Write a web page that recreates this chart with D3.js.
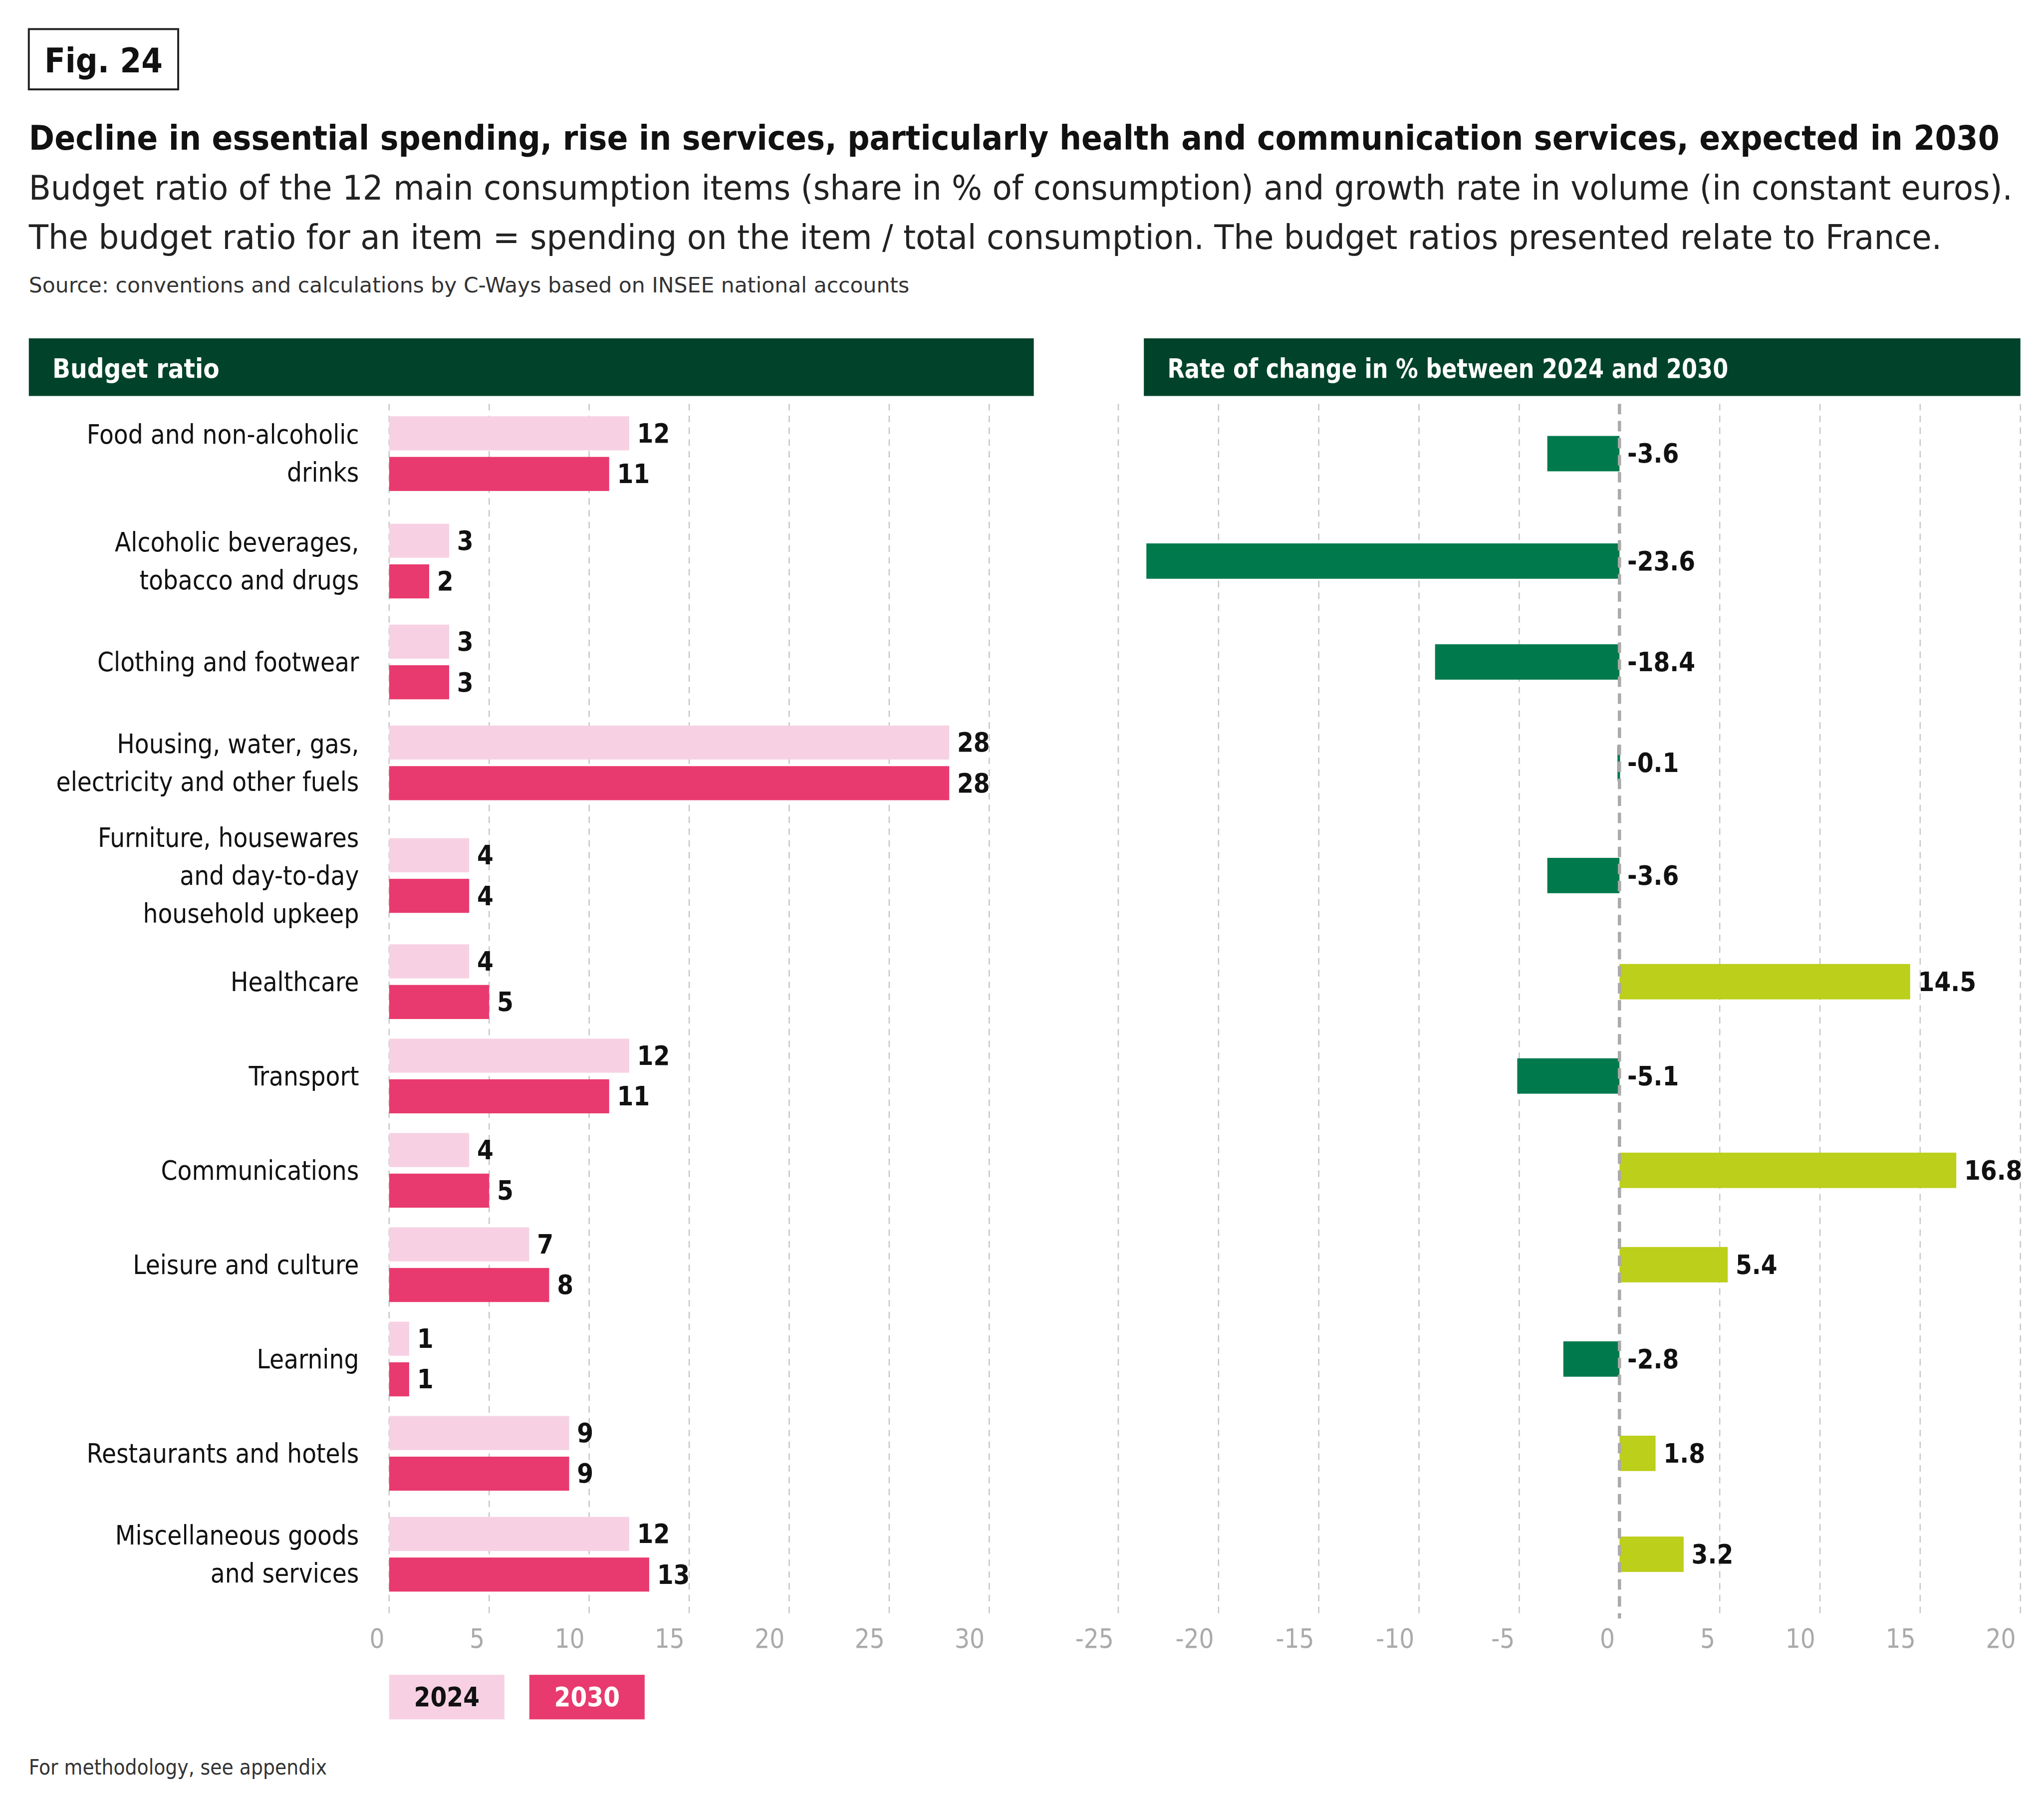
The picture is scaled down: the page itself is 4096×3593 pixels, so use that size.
<!DOCTYPE html>
<html><head><meta charset="utf-8">
<script src="https://cdn.jsdelivr.net/npm/d3@7"></script>
<style>body{margin:0;background:#fff}</style>
</head><body>
<svg id="chart" width="4096" height="3593" viewBox="0 0 1560 1368"></svg>
<script>
const categories = [
  ["Food and non-alcoholic", "drinks"],
  ["Alcoholic beverages,", "tobacco and drugs"],
  ["Clothing and footwear"],
  ["Housing, water, gas,", "electricity and other fuels"],
  ["Furniture, housewares", "and day-to-day", "household upkeep"],
  ["Healthcare"],
  ["Transport"],
  ["Communications"],
  ["Leisure and culture"],
  ["Learning"],
  ["Restaurants and hotels"],
  ["Miscellaneous goods", "and services"]
];
const ratio2024 = [12, 3, 3, 28, 4, 4, 12, 4, 7, 1, 9, 12];
const ratio2030 = [11, 2, 3, 28, 4, 5, 11, 5, 8, 1, 9, 13];
const change = [-3.6, -23.6, -18.4, -0.1, -3.6, 14.5, -5.1, 16.8, 5.4, -2.8, 1.8, 3.2];
// bar lengths on the right panel as drawn in the source figure
const changeDrawn = [-3.6, -23.6, -9.2, -0.1, -3.6, 14.5, -5.1, 16.8, 5.4, -2.8, 1.8, 3.2];
const leftTicks = [0, 5, 10, 15, 20, 25, 30];
const rightTicks = [-25, -20, -15, -10, -5, 0, 5, 10, 15, 20];

const FONT = "'DejaVu Sans Condensed','Liberation Sans Narrow','Noto Sans',sans-serif";
const svg = d3.select("#chart").style("font-family", FONT);
const dark = "#00432a", pinkL = "#f7d1e3", pink = "#e83a6e", green = "#007a4d", lime = "#bccf1a";
const fmt = v => String(v).replace("\u2212", "-");

// header block
svg.append("rect").attr("x", 22).attr("y", 22).attr("width", 114).attr("height", 46)
  .attr("fill", "none").attr("stroke", "#222").attr("stroke-width", 1.5);
svg.append("text").attr("x", 79).attr("y", 55).attr("text-anchor", "middle")
  .attr("font-weight", "bold").attr("font-size", 26).attr("fill", "#111").text("Fig. 24");
svg.append("text").attr("x", 22).attr("y", 114).attr("font-weight", "bold").attr("font-size", 26)
  .attr("fill", "#111").attr("textLength", 1504).attr("lengthAdjust", "spacingAndGlyphs")
  .text("Decline in essential spending, rise in services, particularly health and communication services, expected in 2030");
svg.append("text").attr("x", 22).attr("y", 152).attr("font-size", 26).attr("fill", "#222")
  .attr("textLength", 1514).attr("lengthAdjust", "spacingAndGlyphs")
  .text("Budget ratio of the 12 main consumption items (share in % of consumption) and growth rate in volume (in constant euros).");
svg.append("text").attr("x", 22).attr("y", 190).attr("font-size", 26).attr("fill", "#222")
  .attr("textLength", 1460).attr("lengthAdjust", "spacingAndGlyphs")
  .text("The budget ratio for an item = spending on the item / total consumption. The budget ratios presented relate to France.");
svg.append("text").attr("x", 22).attr("y", 223).attr("font-size", 16).attr("fill", "#333")
  .attr("textLength", 672).attr("lengthAdjust", "spacingAndGlyphs")
  .text("Source: conventions and calculations by C-Ways based on INSEE national accounts");

// panel headers
svg.append("rect").attr("x", 22).attr("y", 258).attr("width", 767).attr("height", 44).attr("fill", dark);
svg.append("text").attr("x", 40).attr("y", 288).attr("fill", "#fff").attr("font-weight", "bold").attr("font-size", 20).text("Budget ratio");
svg.append("rect").attr("x", 873).attr("y", 258).attr("width", 669).attr("height", 44).attr("fill", dark);
svg.append("text").attr("x", 891).attr("y", 288).attr("fill", "#fff").attr("font-weight", "bold").attr("font-size", 20)
  .attr("textLength", 428).attr("lengthAdjust", "spacingAndGlyphs").text("Rate of change in % between 2024 and 2030");

const idx = d3.range(categories.length);
// row heights follow the number of label lines
const rowH = categories.map(c => c.length === 1 ? 72 : c.length === 2 ? 82 : 90);
const centers = [];
let acc = 346 - rowH[0] / 2;
rowH.forEach(h => { centers.push(acc + h / 2); acc += h; });
const xL = d3.scaleLinear().domain([0, 30]).range([297, 755]);
const xR = d3.scaleLinear().domain([-25, 20]).range([853.5, 1542]);
const gridTop = 308, gridBot = 1235;

// grid lines
svg.append("g").selectAll("line").data(leftTicks).join("line")
  .attr("x1", d => xL(d)).attr("x2", d => xL(d)).attr("y1", gridTop).attr("y2", gridBot)
  .attr("stroke", "#c8c8c8").attr("stroke-dasharray", "5,4");
svg.append("g").selectAll("line").data(rightTicks.filter(d => d !== 0)).join("line")
  .attr("x1", d => xR(d)).attr("x2", d => xR(d)).attr("y1", gridTop).attr("y2", gridBot)
  .attr("stroke", "#c8c8c8").attr("stroke-dasharray", "5,4");

// axis tick labels
const axL = svg.append("g").attr("transform", `translate(0,${gridBot})`)
  .call(d3.axisBottom(xL).tickValues(leftTicks).tickSize(0).tickPadding(8).tickFormat(fmt));
const axR = svg.append("g").attr("transform", `translate(0,${gridBot})`)
  .call(d3.axisBottom(xR).tickValues(rightTicks).tickSize(0).tickPadding(8).tickFormat(fmt));
[axL, axR].forEach(a => {
  a.select(".domain").remove();
  a.selectAll("text").attr("font-size", 20).attr("fill", "#aaa").attr("font-family", FONT)
    .attr("text-anchor", "end").attr("dx", -4);
});

// category labels
const bw = 26, gap = 5;
idx.forEach(i => {
  const lines = categories[i];
  const cy = centers[i];
  const t = svg.append("text").attr("text-anchor", "end").attr("font-size", 20).attr("fill", "#111");
  lines.forEach((l, k) => {
    t.append("tspan").attr("x", 274).attr("y", cy + 7 + (k - (lines.length - 1) / 2) * 29).text(l);
  });
});

// left bars
const gL = svg.append("g");
[[ratio2024, pinkL, -bw - gap / 2], [ratio2030, pink, gap / 2]].forEach(([vals, col, off]) => {
  gL.append("g").selectAll("rect").data(idx).join("rect")
    .attr("x", xL(0)).attr("y", i => centers[i] + off)
    .attr("width", i => xL(vals[i]) - xL(0)).attr("height", bw).attr("fill", col);
  gL.append("g").selectAll("text").data(idx).join("text")
    .attr("x", i => xL(vals[i]) + 6).attr("y", i => centers[i] + off + bw / 2 + 7)
    .attr("font-size", 20).attr("font-weight", "bold").attr("fill", "#111").text(i => vals[i]);
});

// right bars
const gR = svg.append("g");
gR.selectAll("rect").data(idx).join("rect")
  .attr("x", i => Math.min(xR(0), xR(changeDrawn[i])))
  .attr("y", i => centers[i] - 13.5)
  .attr("width", i => Math.max(2, Math.abs(xR(changeDrawn[i]) - xR(0))))
  .attr("height", 27).attr("fill", i => change[i] < 0 ? green : lime);
gR.selectAll("text").data(idx).join("text")
  .attr("x", i => (change[i] < 0 ? xR(0) : xR(changeDrawn[i])) + 6)
  .attr("y", i => centers[i] + 7)
  .attr("font-size", 20).attr("font-weight", "bold").attr("fill", "#111")
  .text(i => change[i].toFixed(1));
svg.append("line").attr("x1", xR(0)).attr("x2", xR(0)).attr("y1", gridTop).attr("y2", gridBot)
  .attr("stroke", "#aaa").attr("stroke-width", 2.5).attr("stroke-dasharray", "8,5");

// legend
const legend = [["2024", pinkL, "#111"], ["2030", pink, "#fff"]];
legend.forEach(([lab, col, tc], k) => {
  const lx = 297 + k * 107;
  svg.append("rect").attr("x", lx).attr("y", 1278).attr("width", 88).attr("height", 34).attr("fill", col);
  svg.append("text").attr("x", lx + 44).attr("y", 1302).attr("text-anchor", "middle")
    .attr("font-size", 20).attr("font-weight", "bold").attr("fill", tc).text(lab);
});
svg.append("text").attr("x", 22).attr("y", 1354).attr("font-size", 16).attr("fill", "#333").text("For methodology, see appendix");
</script>
</body></html>
